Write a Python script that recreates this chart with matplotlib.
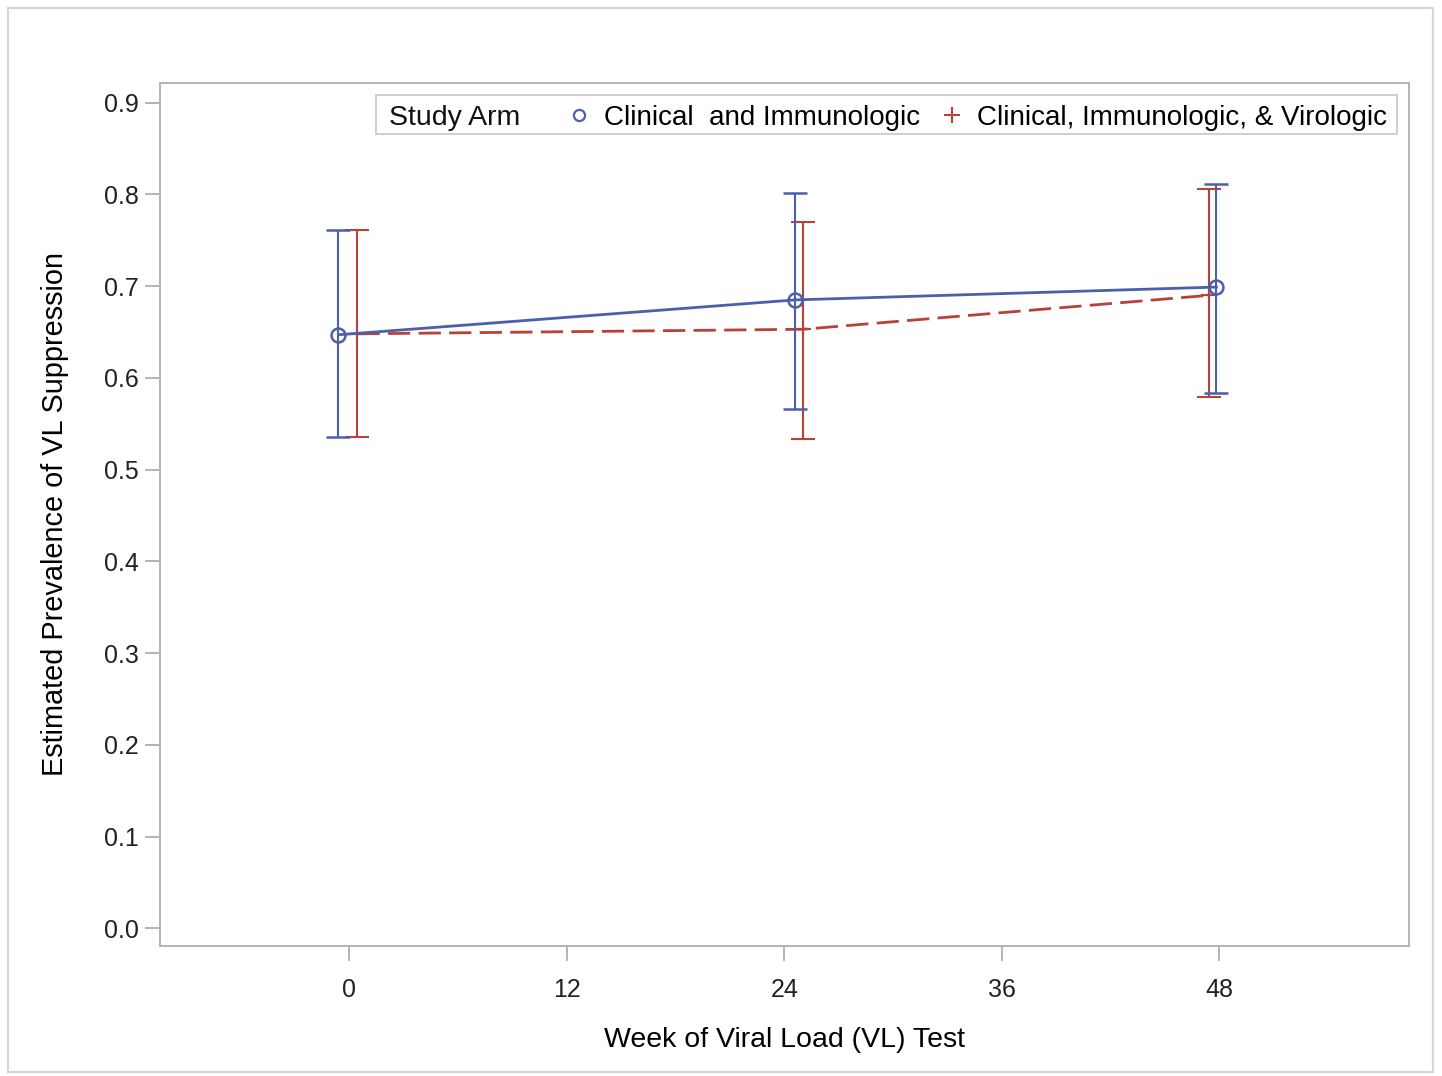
"""
Estimated prevalence of VL suppression by study arm and week
"""

import matplotlib
matplotlib.use("Agg")
import matplotlib.pyplot as plt
from matplotlib.lines import Line2D
from matplotlib.patches import Rectangle

plt.rcParams["font.family"] = ["Liberation Sans", "DejaVu Sans"]

# Data (x positions include the small cluster offsets)
weeks = [0, 12, 24, 36, 48]
arm_labels = ["Clinical  and Immunologic", "Clinical, Immunologic, & Virologic"]

ci_x = [-0.6, 24.6, 47.85]
ci_est = [0.647, 0.685, 0.699]
ci_low = [0.536, 0.566, 0.584]
ci_high = [0.761, 0.801, 0.811]

civ_x = [0.45, 25.05, 47.45]
civ_est = [0.648, 0.653, 0.690]
civ_low = [0.536, 0.533, 0.579]
civ_high = [0.761, 0.770, 0.806]

blue = "#4b5fab"
red = "#b8413a"
grey = "#b4b4b4"

fig = plt.figure(figsize=(14.42, 10.76), dpi=100)
ax = fig.add_axes([0.1112, 0.1211, 0.8659, 0.8018])

# outer frame around the whole graph
fig.patches.append(Rectangle((8 / 1442, 4 / 1076), 1425 / 1442, 1064 / 1076,
                             transform=fig.transFigure, fill=False,
                             edgecolor="#d6d6d6", linewidth=1.6))

# red arm: dashed line, plus markers, error bars
ax.errorbar(civ_x, civ_est,
            yerr=[[e - l for e, l in zip(civ_est, civ_low)],
                  [h - e for e, h in zip(civ_est, civ_high)]],
            color=red, ecolor=red, elinewidth=1.5, capsize=8.6, capthick=1.5,
            linestyle=(0, (8, 3)), linewidth=2.0, marker="+", markersize=11,
            markeredgewidth=1.5, zorder=2)

# blue arm: solid line, open circles, error bars
ax.errorbar(ci_x, ci_est,
            yerr=[[e - l for e, l in zip(ci_est, ci_low)],
                  [h - e for e, h in zip(ci_est, ci_high)]],
            color=blue, ecolor=blue, elinewidth=1.5, capsize=8.4, capthick=1.5,
            linestyle="-", linewidth=2.0, marker="o", markersize=10,
            markerfacecolor="none", markeredgewidth=1.8, zorder=3)

ax.set_xlim(-10.43, 58.48)
ax.set_ylim(-0.019, 0.9215)
ax.set_xticks(weeks)
ax.set_yticks([i / 10 for i in range(10)])
ax.set_yticklabels([f"{i / 10:.1f}" for i in range(10)])

for s in ax.spines.values():
    s.set_color(grey)
    s.set_linewidth(1.4)
ax.tick_params(axis="both", direction="out", length=10.5, width=1.4,
               color=grey, labelsize=18, labelcolor="#222222")
ax.tick_params(axis="x", pad=12.5)
ax.tick_params(axis="y", pad=5)

ax.set_xlabel("Week of Viral Load (VL) Test", fontsize=20.5, labelpad=18)
ax.set_ylabel("Estimated Prevalence of VL Suppression", fontsize=20.8,
              labelpad=25)

# legend box with the title on the left
ax.add_patch(Rectangle((0.1727, 0.941), 0.8177, 0.0445, transform=ax.transAxes,
                       fill=False, edgecolor="#cfcfcf", linewidth=1.4, zorder=5))
ax.text(0.1831, 0.9597, "Study Arm", transform=ax.transAxes, fontsize=20.5,
        va="center", ha="left", color="#111111", zorder=6)
handles = [Line2D([], [], color=blue, marker="o", linestyle="none",
                  markersize=8, markerfacecolor="none", markeredgewidth=1.6),
           Line2D([], [], color=red, marker="+", linestyle="none",
                  markersize=11, markeredgewidth=1.5)]
ax.legend(handles, arm_labels, ncol=2, frameon=False, fontsize=20,
          loc="center right", bbox_to_anchor=(0.9824, 0.9597),
          handlelength=1.0, handletextpad=0.4, columnspacing=0.65,
          borderpad=0.0, borderaxespad=0.0)

fig.savefig("out.png", dpi=100)
